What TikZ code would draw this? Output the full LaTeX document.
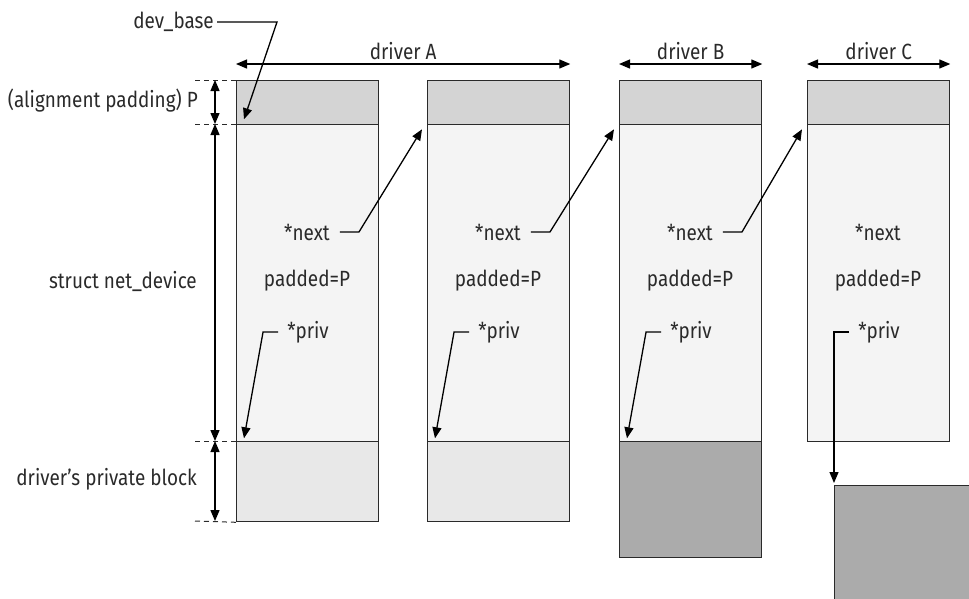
\documentclass[tikz,border=0pt]{standalone}
\usepackage{fontspec}
\setmainfont[FakeStretch=0.86]{Fira Sans}
\usetikzlibrary{positioning,calc,arrows.meta}

\definecolor{ink}{HTML}{2A2A2A}
\definecolor{padgray}{HTML}{D4D4D4}
\definecolor{devgray}{HTML}{F4F4F4}
\definecolor{privlight}{HTML}{E8E8E8}
\definecolor{privdark}{HTML}{ABABAB}

\tikzset{
  blk/.style={draw=ink, line width=1.3pt, inner sep=0pt, anchor=north west, minimum width=142pt},
  padblk/.style={blk, fill=padgray, minimum height=44pt},
  devblk/.style={blk, fill=devgray, minimum height=317pt},
  privblk/.style={blk, fill=privlight, minimum height=80pt},
  lbl/.style={text=ink, font=\fontsize{22}{24}\selectfont, inner sep=1pt},
  ptr/.style={draw=black, line width=1.3pt, -{Triangle[length=11pt,width=9pt]}},
  dim/.style={draw=black, line width=1.3pt, {Triangle[length=11pt,width=9pt]}-{Triangle[length=11pt,width=9pt]}},
  tick/.style={draw=ink, line width=1pt, dash pattern=on 5pt off 4pt},
}

\begin{document}
\begin{tikzpicture}[x=1pt, y=-1pt]
\path[use as bounding box, clip] (0,0) rectangle (969,598);

% columns: padding, net_device and the text inside
\foreach \i/\x in {1/236, 2/427, 3/619, 4/807} {
    \node[padblk] (pad\i) at (\x,80) {};
    \node[devblk] (dev\i) at (\x,124) {};
    \node[lbl] (next\i) at (\x+71,232) {*next};
    \node[lbl] (padded\i) at (\x+71,281) {padded=P};
    \node[lbl] (priv\i) at (\x+72,332) {*priv};
}

% private blocks
\node[privblk] (blk1) at (236,441) {};
\node[privblk] (blk2) at (427,441) {};
\node[blk, fill=privdark, minimum height=116pt] (blk3) at (619,441) {};
\node[blk, fill=privdark, minimum width=160pt, minimum height=140pt] (blk4) at (834,485) {};

% next pointers
\foreach \i/\j in {1/2, 2/3, 3/4} {
    \draw[ptr] ([xshift=9pt]next\i.east) -- ++(19,0) -- ($(pad\j.south west)+(-5,4)$);
}

% priv pointers
\foreach \i in {1,2,3} {
    \draw[ptr] ([xshift=-8pt]priv\i.west) -- ++(-15,0) -- ($(dev\i.south west)+(8,-4)$);
}
\draw[ptr] ([xshift=-8pt]priv4.west) -| ($(blk4.north west)+(0,-2)$);

% driver spans
\draw[dim] ([yshift=16pt]pad1.north west) -- ([yshift=16pt]pad2.north east)
    node[lbl, midway, above=3pt] (drvA) {driver A};
\draw[dim] ([yshift=16pt]pad3.north west) -- ([yshift=16pt]pad3.north east)
    node[lbl, midway, above=3pt] (drvB) {driver B};
\draw[dim] ([yshift=16pt]pad4.north west) -- ([yshift=16pt]pad4.north east)
    node[lbl, midway, above=3pt] (drvC) {driver C};

% dev_base
\node[lbl, anchor=east] (devbase) at (215,22) {dev\_base};
\draw[ptr] ([xshift=2pt]devbase.east) -- ++(60,0) -- ($(pad1.south west)+(8,-6)$);

% left dimensions
\coordinate (t1) at (195,80);
\coordinate (t2) at (195,124);
\coordinate (t3) at (195,441);
\coordinate (t4) at (195,521);
\draw[tick] (t1) -- (pad1.north west);
\draw[tick] (t2) -- (dev1.north west);
\draw[tick] (t3) -- (blk1.north west);
\draw[tick] (t4) -- (blk1.south west);
\draw[dim] (215,80) -- (215,124);
\draw[dim] (215,124) -- (215,441);
\draw[dim] (215,441) -- (215,521);
\node[lbl, anchor=east] (lpad) at (199,101) {(alignment padding) P};
\node[lbl, anchor=east] (ldev) at (198,281) {struct net\_device};
\node[lbl, anchor=east] (lpriv) at (198,479) {driver’s private block};
\end{tikzpicture}
\end{document}
